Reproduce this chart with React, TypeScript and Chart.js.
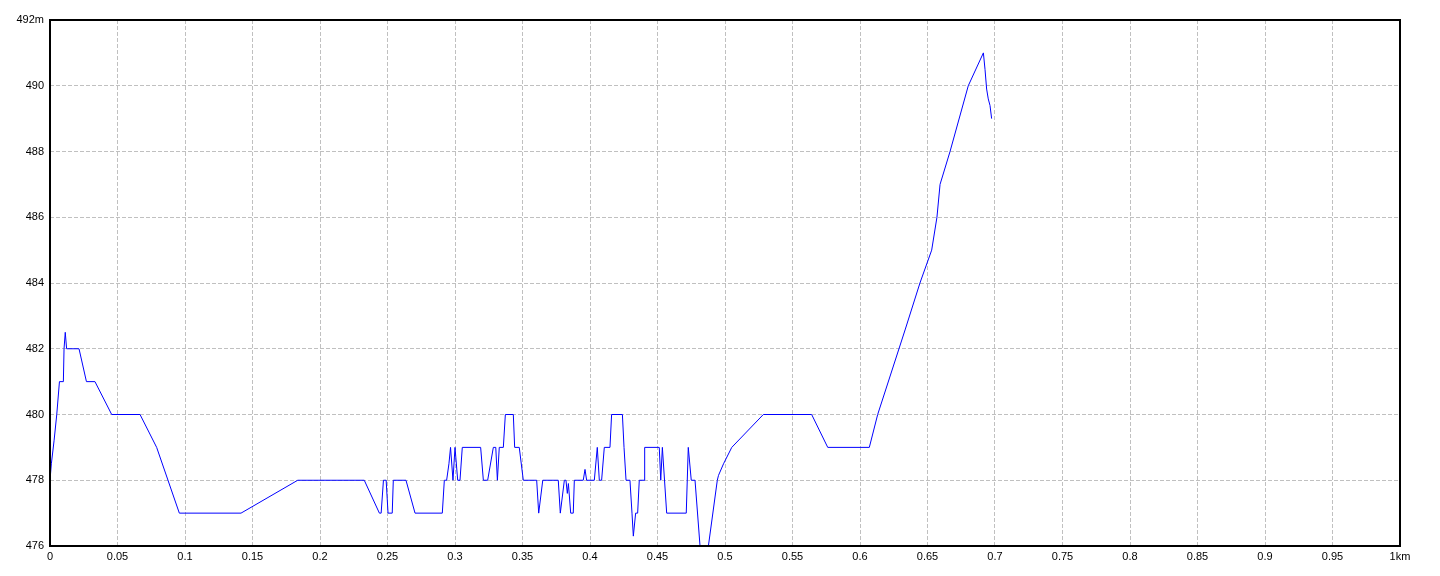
import React, { useEffect, useRef } from "react";
import { Chart, registerables } from "chart.js";

Chart.register(...registerables);

const distanceKm: number[] = [
  0, 0.001, 0.003, 0.005, 0.007, 0.0099, 0.0104, 0.0113, 0.0123, 0.0215,
  0.027, 0.0333, 0.0457, 0.0667, 0.079, 0.0958, 0.1415, 0.1835, 0.2328, 0.244,
  0.2453, 0.247, 0.249, 0.2504, 0.2535, 0.2543, 0.2637, 0.2704, 0.2906, 0.2921,
  0.2938, 0.2955, 0.2967, 0.2985, 0.3, 0.302, 0.3037, 0.3054, 0.319, 0.321,
  0.3242, 0.3284, 0.3302, 0.3314, 0.3328, 0.3358, 0.3373, 0.3432, 0.3442, 0.3476,
  0.3506, 0.3605, 0.362, 0.365, 0.3765, 0.378, 0.381, 0.3822, 0.3832, 0.384,
  0.3857, 0.3876, 0.3884, 0.395, 0.3963, 0.3975, 0.4032, 0.4054, 0.4069, 0.4086,
  0.4106, 0.4148, 0.416, 0.424, 0.4252, 0.4267, 0.4296, 0.4311, 0.4321, 0.4338,
  0.4353, 0.4365, 0.44, 0.4405, 0.4513, 0.4524, 0.4536, 0.4568, 0.4713, 0.4728,
  0.475, 0.4778, 0.4815, 0.4877, 0.4943, 0.4952, 0.4989, 0.505, 0.5284, 0.5642,
  0.5761, 0.6069, 0.6131, 0.6336, 0.6444, 0.6531, 0.657, 0.6593, 0.6667, 0.6802,
  0.6914, 0.6926, 0.6938, 0.695, 0.6963, 0.6975,
];

const elevationM: number[] = [
  478, 478.5, 479.2, 480, 481, 481, 482, 482.5, 482, 482,
  481, 481, 480, 480, 479, 477, 477, 478, 478, 477,
  477, 478, 478, 477, 477, 478, 478, 477, 477, 478,
  478, 478.5, 479, 478, 479, 478, 478, 479, 479, 478,
  478, 479, 479, 478, 479, 479, 480, 480, 479, 479,
  478, 478, 477, 478, 478, 477, 478, 478, 477.6, 477.9,
  477, 477, 478, 478, 478.33, 478, 478, 479, 478, 478,
  479, 479, 480, 480, 479, 478, 478, 477, 476.3, 477,
  477, 478, 478, 479, 479, 478, 479, 477, 477, 479,
  478, 478, 476, 476, 478, 478.15, 478.5, 479, 480, 480,
  479, 479, 480, 482.6, 484, 485, 486, 487, 488, 490,
  491, 490.5, 489.9, 489.6, 489.4, 489,
];

const xTickValues: number[] = [
  0, 0.05, 0.1, 0.15, 0.2, 0.25, 0.3, 0.35, 0.4, 0.45, 0.5,
  0.55, 0.6, 0.65, 0.7, 0.75, 0.8, 0.85, 0.9, 0.95, 1,
];
const yTickValues: number[] = [476, 478, 480, 482, 484, 486, 488, 490, 492];

const FONT = { family: "'Liberation Sans', Arial, sans-serif", size: 11 };

const frame = {
  id: "frame",
  afterDraw(chart: any) {
    const { ctx, chartArea } = chart;
    ctx.save();
    ctx.strokeStyle = "#000000";
    ctx.lineWidth = 2;
    ctx.setLineDash([]);
    ctx.strokeRect(
      chartArea.left,
      chartArea.top,
      chartArea.right - chartArea.left,
      chartArea.bottom - chartArea.top
    );
    ctx.restore();
  },
};

export default function App() {
  const ref = useRef<HTMLCanvasElement | null>(null);

  useEffect(() => {
    if (!ref.current) return;
    const points = distanceKm.map((d, i) => ({ x: d, y: elevationM[i] }));
    const chart = new Chart(ref.current, {
      type: "line",
      data: {
        datasets: [
          {
            data: points,
            borderColor: "#0000ff",
            borderWidth: 1,
            pointRadius: 0,
            tension: 0,
            fill: false,
          },
        ],
      },
      options: {
        animation: false,
        responsive: false,
        maintainAspectRatio: false,
        layout: { padding: { left: 0, top: 20, right: 40, bottom: 0 } },
        plugins: {
          legend: { display: false },
          tooltip: { enabled: false },
          title: { display: false },
        },
        scales: {
          x: {
            type: "linear",
            min: 0,
            max: 1,
            afterFit: (s: any) => {
              s.height = 30;
            },
            afterBuildTicks: (s: any) => {
              s.ticks = xTickValues.map((v) => ({ value: v }));
            },
            border: { display: false, dash: [4, 2] },
            grid: {
              color: "#c0c0c0",
              lineWidth: 1,
              drawTicks: false,
            },
            ticks: {
              color: "#000000",
              font: FONT,
              padding: 4,
              maxRotation: 0,
              autoSkip: false,
              callback: (v: any) =>
                Number(v) === 1 ? "1km" : String(Number(Number(v).toFixed(2))),
            },
          },
          y: {
            type: "linear",
            min: 476,
            max: 492,
            afterFit: (s: any) => {
              s.width = 50;
            },
            afterBuildTicks: (s: any) => {
              s.ticks = yTickValues.map((v) => ({ value: v }));
            },
            border: { display: false, dash: [4, 2] },
            grid: {
              color: "#c0c0c0",
              lineWidth: 1,
              drawTicks: false,
            },
            ticks: {
              color: "#000000",
              font: FONT,
              padding: 6,
              autoSkip: false,
              callback: (v: any) => (Number(v) === 492 ? "492m" : String(v)),
            },
          },
        },
      },
      plugins: [frame],
    } as any);
    return () => chart.destroy();
  }, []);

  return (
    <div
      style={{
        position: "fixed",
        left: 0,
        top: 0,
        width: 1440,
        height: 576,
        background: "#ffffff",
      }}
    >
      <canvas ref={ref} width={1440} height={576} style={{ width: 1440, height: 576 }} />
    </div>
  );
}
